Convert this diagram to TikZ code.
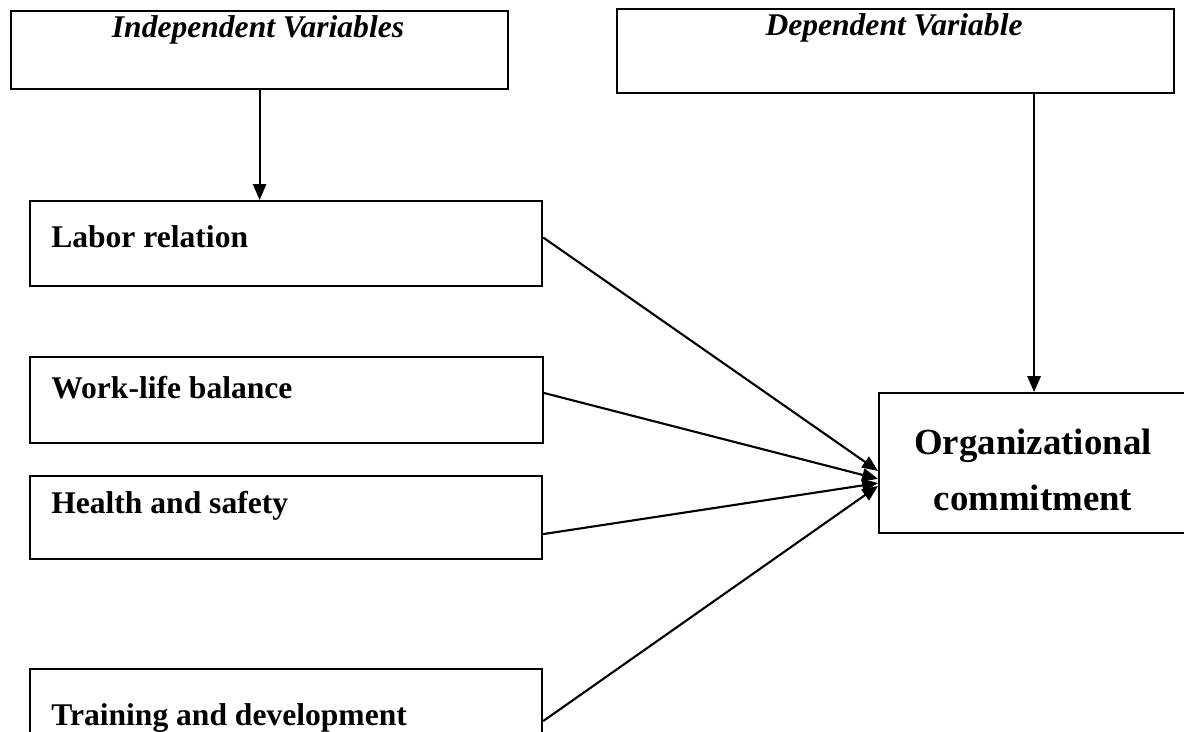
\documentclass[tikz,border=0pt]{standalone}
\usepackage{fontspec}
\setmainfont{Liberation Serif}
\usetikzlibrary{arrows.meta}

\begin{document}
\begin{tikzpicture}[x=0.38pt, y=-0.38pt, >={Triangle[length=6pt, width=5pt]},
	varbox/.style={draw, line width=0.8pt, anchor=north west, inner sep=0pt},
	boxtext/.style={font=\fontsize{12}{14}\selectfont\bfseries, anchor=west},
	headtext/.style={font=\fontsize{12}{14}\selectfont\bfseries\itshape},
	link/.style={->, line width=0.8pt}]
	\useasboundingbox (0,0) rectangle (1184,731);
	\clip (0,0) rectangle (1184,731);
	% headings
	\node[varbox, minimum width=188.9pt, minimum height=29.6pt] (indep) at (10,10) {};
	\node[headtext] (indep_txt) at (258,30) {Independent Variables};
	\node[varbox, minimum width=211.7pt, minimum height=31.9pt] (dep) at (616,8) {};
	\node[headtext] (dep_txt) at (894,28) {Dependent Variable};
	% independent variables
	\node[varbox, minimum width=194.6pt, minimum height=32.3pt] (labor) at (29,200) {};
	\node[boxtext] (labor_txt) at (42,237) {Labor relation};
	\node[varbox, minimum width=194.9pt, minimum height=32.7pt] (work) at (29,356) {};
	\node[boxtext] (work_txt) at (42,388) {Work-life balance};
	\node[varbox, minimum width=194.6pt, minimum height=31.5pt] (health) at (29,475) {};
	\node[boxtext] (health_txt) at (42,506) {Health and safety};
	\node[varbox, minimum width=194.6pt, minimum height=31.5pt] (train) at (29,668) {};
	\node[boxtext] (train_txt) at (42,718) {Training and development};
	% dependent variable
	\node[varbox, minimum width=117.8pt, minimum height=53.2pt] (org) at (878,392) {};
	\node[align=center, font=\fontsize{14}{21}\selectfont\bfseries] (org_txt) at (1033,470) {Organizational\\commitment};
	\draw[link] (indep.south) -- (indep.south |- labor.north);
	\draw[link] (org.north |- dep.south) -- (org.north);
	\draw[link] ([yshift=2.3pt]labor.east) -- ([yshift=-3pt]org.west);
	\draw[link] ([yshift=2.7pt]work.east) -- ([yshift=-6pt]org.west);
	\draw[link] ([yshift=-6.3pt]health.east) -- ([yshift=-7.6pt]org.west);
	\draw[link] ([yshift=-4pt]train.east) -- ([yshift=-8.7pt]org.west);
\end{tikzpicture}
\end{document}
